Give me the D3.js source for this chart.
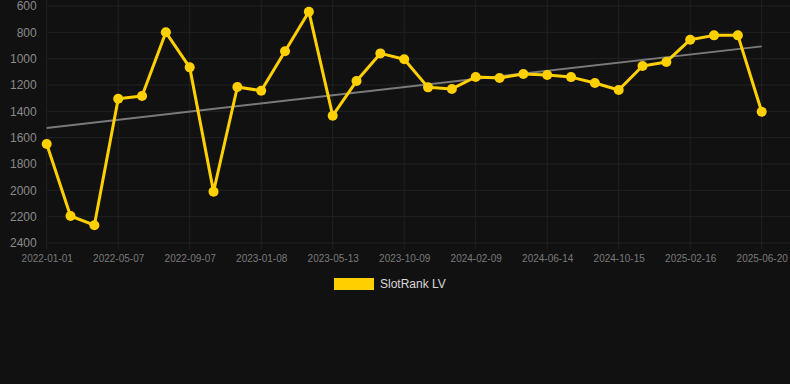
<!DOCTYPE html>
<html>
<head>
<meta charset="utf-8">
<script src="https://cdn.jsdelivr.net/npm/d3@7"></script>
<style>
  html, body { margin: 0; padding: 0; background: #111111; }
  svg { display: block; }
</style>
</head>
<body>
<svg id="chart" width="790" height="384"></svg>
<script>
// ---- data ----
const dates = [
  "2022-01-01","2022-02-12","2022-03-25","2022-05-07","2022-06-18","2022-07-28",
  "2022-09-07","2022-10-20","2022-11-28","2023-01-08","2023-02-20","2023-04-01",
  "2023-05-13","2023-06-30","2023-08-20","2023-10-09","2023-11-20","2023-12-30",
  "2024-02-09","2024-03-22","2024-05-03","2024-06-14","2024-07-26","2024-09-04",
  "2024-10-15","2024-11-26","2025-01-06","2025-02-16","2025-03-30","2025-05-10",
  "2025-06-20"
];
const rankValues = [
  1648, 2195, 2265, 1304, 1283, 800,
  1066, 2010, 1215, 1243, 944, 643,
  1433, 1170, 960, 1005, 1218, 1230,
  1139, 1147, 1116, 1124, 1140, 1185,
  1238, 1056, 1025, 856, 823, 823,
  1403
];
const tickLabels = [
  "2022-01-01","2022-05-07","2022-09-07","2023-01-08","2023-05-13","2023-10-09",
  "2024-02-09","2024-06-14","2024-10-15","2025-02-16","2025-06-20"
];
const yTicks = [600, 800, 1000, 1200, 1400, 1600, 1800, 2000, 2200, 2400];
const seriesName = "SlotRank LV";

(function () {
// ---- layout ----
const svg = d3.select("#chart");
const pLeft = 46.7, pRight = 761.7, pTop = 6, pBottom = 243;
const gridRight = 790;

const x = d3.scalePoint().domain(dates).range([pLeft, pRight]);
const y = d3.scaleLinear().domain([600, 2400]).range([pTop, pBottom]);

// grid - horizontal
svg.append("g").selectAll("line").data(yTicks).join("line")
  .attr("x1", pLeft).attr("x2", gridRight)
  .attr("y1", d => y(d)).attr("y2", d => y(d))
  .attr("stroke", "#222222").attr("stroke-width", 1);

// grid - vertical
svg.append("g").selectAll("line").data(tickLabels).join("line")
  .attr("x1", d => x(d)).attr("x2", d => x(d))
  .attr("y1", 0).attr("y2", pBottom + 6)
  .attr("stroke", "#222222").attr("stroke-width", 1);

// y axis labels
const yAxis = d3.axisLeft(y).tickValues(yTicks).tickFormat(d3.format("d")).tickSize(0).tickPadding(0);
const yg = svg.append("g").attr("transform", `translate(${pLeft - 10},0)`).call(yAxis);
yg.select(".domain").remove();
yg.selectAll("text")
  .attr("fill", "#8a8a8a")
  .style("font-family", "Liberation Sans, Arial, sans-serif")
  .style("font-size", "12px");

// x axis labels
const xAxis = d3.axisBottom(x).tickValues(tickLabels).tickSize(0).tickPadding(0);
const xg = svg.append("g").attr("transform", `translate(0,${pBottom + 12})`).call(xAxis);
xg.select(".domain").remove();
xg.selectAll("text")
  .attr("fill", "#7a7a7a")
  .attr("dy", "0.71em")
  .style("font-family", "Liberation Sans, Arial, sans-serif")
  .style("font-size", "10px");

// trend line (least squares on index)
const n = rankValues.length;
const idx = d3.range(n);
const mx = d3.mean(idx), my = d3.mean(rankValues);
const slope = d3.sum(idx, i => (i - mx) * (rankValues[i] - my)) / d3.sum(idx, i => (i - mx) ** 2);
const intercept = my - slope * mx;
svg.append("line")
  .attr("x1", x(dates[0])).attr("y1", y(intercept))
  .attr("x2", x(dates[n - 1])).attr("y2", y(intercept + slope * (n - 1)))
  .attr("stroke", "#7a7a7a").attr("stroke-width", 2);

// series line
const line = d3.line().x((d, i) => x(dates[i])).y(d => y(d));
svg.append("path").datum(rankValues)
  .attr("d", line)
  .attr("fill", "none")
  .attr("stroke", "#FFD000")
  .attr("stroke-width", 3)
  .attr("stroke-linejoin", "round");

svg.append("g").selectAll("circle").data(rankValues).join("circle")
  .attr("cx", (d, i) => x(dates[i]))
  .attr("cy", d => y(d))
  .attr("r", 5)
  .attr("fill", "#FFD000");

// legend
const lg = svg.append("g");
lg.append("rect").attr("x", 334).attr("y", 278).attr("width", 40).attr("height", 12)
  .attr("fill", "#FFD000");
lg.append("text").attr("x", 380).attr("y", 284).attr("dy", "0.35em")
  .attr("fill", "#d8d8d8")
  .style("font-family", "Liberation Sans, Arial, sans-serif")
  .style("font-size", "12px")
  .text(seriesName);
})();
</script>
</body>
</html>
